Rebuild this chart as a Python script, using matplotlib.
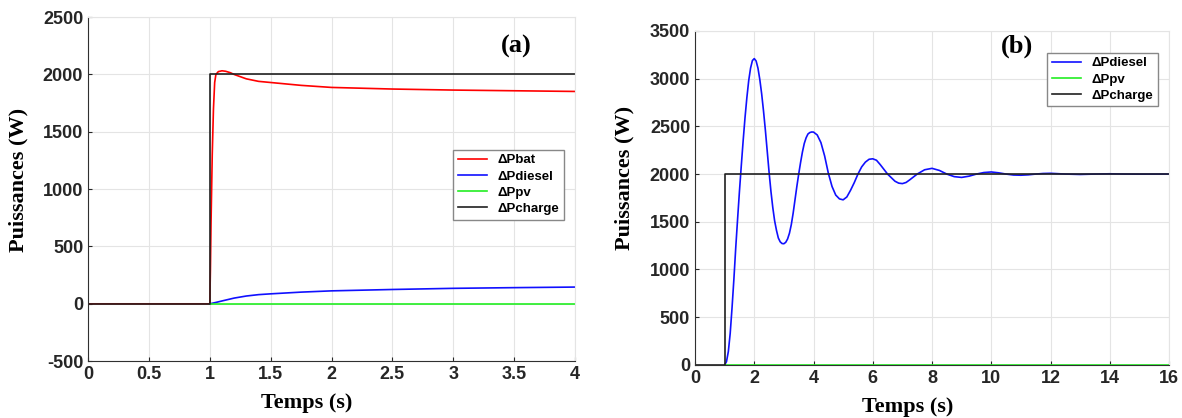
import matplotlib.pyplot as plt

plt.rcParams['axes.unicode_minus'] = False

# ---- data (a) ----
t_load_a = [0, 1.0, 1.0, 4.0]
p_load_a = [0, 0, 2000, 2000]

t_bat = [0, 1.0, 1.005, 1.01, 1.02, 1.03, 1.04, 1.05, 1.07, 1.1, 1.13, 1.17, 1.2,
         1.3, 1.4, 1.5, 1.75, 2.0, 2.5, 3.0, 3.5, 4.0]
p_bat = [0, 0, 300, 700, 1300, 1700, 1930, 2000, 2025, 2032, 2028, 2015, 2000,
         1962, 1940, 1930, 1905, 1887, 1873, 1864, 1858, 1852]

t_dsl_a = [1.0, 1.05, 1.1, 1.2, 1.3, 1.4, 1.5, 1.75, 2.0, 2.5, 3.0, 3.5, 4.0]
p_dsl_a = [0, 12, 25, 50, 68, 80, 87, 102, 113, 125, 135, 141, 146]

t_pv_a = [1.0, 4.0]
p_pv_a = [0, 0]

# ---- data (b) ----
t_load_b = [0, 1.0, 1.0, 16.0]
p_load_b = [0, 0, 2000, 2000]

t_dsl_b = [1.0, 1.0625, 1.125, 1.1875, 1.25, 1.3125, 1.375, 1.4375, 1.5, 1.5625,
           1.625, 1.6875, 1.75, 1.8125, 1.875, 1.9375, 2.0, 2.0625, 2.125, 2.1875,
           2.25, 2.3125, 2.375, 2.4375, 2.5, 2.5625, 2.625, 2.6875, 2.75, 2.8125,
           2.875, 2.9375, 3.0, 3.0625, 3.125, 3.1875, 3.25, 3.3125, 3.375, 3.4375,
           3.5, 3.5625, 3.625, 3.6875, 3.75, 3.8125, 3.875, 3.9375, 4.0, 4.125,
           4.25, 4.375, 4.5, 4.625, 4.75, 4.875, 5.0, 5.125, 5.25, 5.375, 5.5,
           5.625, 5.75, 5.875, 6.0, 6.125, 6.25, 6.5, 6.75, 6.875, 7.0, 7.125,
           7.25, 7.5, 7.75, 8.0, 8.25, 8.5, 8.75, 9.0, 9.25, 9.5, 9.75, 10.0,
           10.25, 10.5, 10.75, 11.0, 11.25, 11.5, 11.75, 12.0, 12.5, 13.0, 13.5,
           14.0, 14.5, 15.0, 16.0]
p_dsl_b = [0, 35, 140, 330, 600, 900, 1230, 1530, 1820, 2090, 2350, 2590, 2800,
           2980, 3110, 3190, 3210, 3185, 3110, 2990, 2840, 2660, 2460, 2240,
           2020, 1820, 1650, 1510, 1410, 1330, 1290, 1272, 1270, 1285, 1320, 1380,
           1470, 1590, 1730, 1870, 2000, 2120, 2230, 2320, 2380, 2420, 2435, 2441,
           2440, 2410, 2330, 2190, 2010, 1870, 1780, 1740, 1730, 1760, 1830, 1910,
           2000, 2075, 2125, 2155, 2160, 2145, 2100, 2000, 1925, 1905, 1900, 1912,
           1940, 2000, 2045, 2060, 2038, 2000, 1973, 1965, 1978, 2000, 2016, 2022,
           2013, 2000, 1990, 1988, 1992, 2000, 2006, 2008, 2000, 1996, 2000,
           2003, 2000, 1999, 2000]

t_pv_b = [1.0, 16.0]
p_pv_b = [0, 0]

RED = '#ff0000'
BLUE = '#1010ff'
GREEN = '#22ee22'
BLACK = '#202020'

lab_font = {'family': 'Liberation Serif', 'weight': 'bold', 'size': 16}


def style(ax, xlab_pos, ylab_pos):
    ax.grid(True, color='#e4e4e4', linewidth=0.8)
    ax.set_axisbelow(True)
    for s in ['left', 'bottom']:
        ax.spines[s].set_color('#303030')
    for s in ['top', 'right']:
        ax.spines[s].set_color('#e4e4e4')
    ax.tick_params(direction='in', length=3, colors='#262626', labelsize=13)
    for lbl in ax.get_xticklabels() + ax.get_yticklabels():
        lbl.set_fontfamily('Liberation Sans')
        lbl.set_fontweight('bold')
    ax.set_xlabel('Temps (s)', fontdict=lab_font)
    ax.set_ylabel('Puissances (W)', fontdict=lab_font)
    ax.xaxis.set_label_coords(*xlab_pos)
    ax.yaxis.set_label_coords(*ylab_pos)


fig = plt.figure(figsize=(11.82, 4.18), dpi=100)

# (a)
ax1 = fig.add_axes([0.0745, 0.136, 0.412, 0.823])
ax1.plot(t_bat, p_bat, color=RED, lw=1.2, label='ΔPbat')
ax1.plot(t_dsl_a, p_dsl_a, color=BLUE, lw=1.2, label='ΔPdiesel')
ax1.plot(t_pv_a, p_pv_a, color=GREEN, lw=1.2, label='ΔPpv')
ax1.plot(t_load_a, p_load_a, color=BLACK, lw=1.2, label='ΔPcharge')
ax1.set_xlim(0, 4)
ax1.set_ylim(-500, 2500)
ax1.set_xticks([0, 0.5, 1, 1.5, 2, 2.5, 3, 3.5, 4])
ax1.set_xticklabels(['0', '0.5', '1', '1.5', '2', '2.5', '3', '3.5', '4'])
ax1.set_yticks(range(-500, 2501, 500))
style(ax1, (0.448, -0.093), (-0.123, 0.526))
ax1.legend(loc='upper right', bbox_to_anchor=(0.99, 0.634), fancybox=False,
           edgecolor='#888888', framealpha=1, handlelength=2.2,
           prop={'family': 'Liberation Sans', 'weight': 'bold', 'size': 9.5},
           borderpad=0.35, labelspacing=0.3)
ax1.text(0.88, 0.916, '(a)', transform=ax1.transAxes, ha='center', va='center',
         fontfamily='Liberation Serif', fontweight='bold', fontsize=19)

# (b)
ax2 = fig.add_axes([0.588, 0.127, 0.401, 0.799])
ax2.plot(t_dsl_b, p_dsl_b, color=BLUE, lw=1.2, label='ΔPdiesel')
ax2.plot(t_pv_b, p_pv_b, color=GREEN, lw=1.2, label='ΔPpv')
ax2.plot(t_load_b, p_load_b, color=BLACK, lw=1.2, label='ΔPcharge')
ax2.set_xlim(0, 16)
ax2.set_ylim(0, 3500)
ax2.set_xticks(range(0, 17, 2))
ax2.set_yticks(range(0, 3501, 500))
style(ax2, (0.449, -0.096), (-0.127, 0.56))
ax2.legend(loc='upper right', bbox_to_anchor=(0.99, 0.955), fancybox=False,
           edgecolor='#888888', framealpha=1, handlelength=2.2,
           prop={'family': 'Liberation Sans', 'weight': 'bold', 'size': 9.5},
           borderpad=0.35, labelspacing=0.3)
ax2.text(0.68, 0.955, '(b)', transform=ax2.transAxes, ha='center', va='center',
         fontfamily='Liberation Serif', fontweight='bold', fontsize=19)

fig.savefig('out.png', dpi=100)
